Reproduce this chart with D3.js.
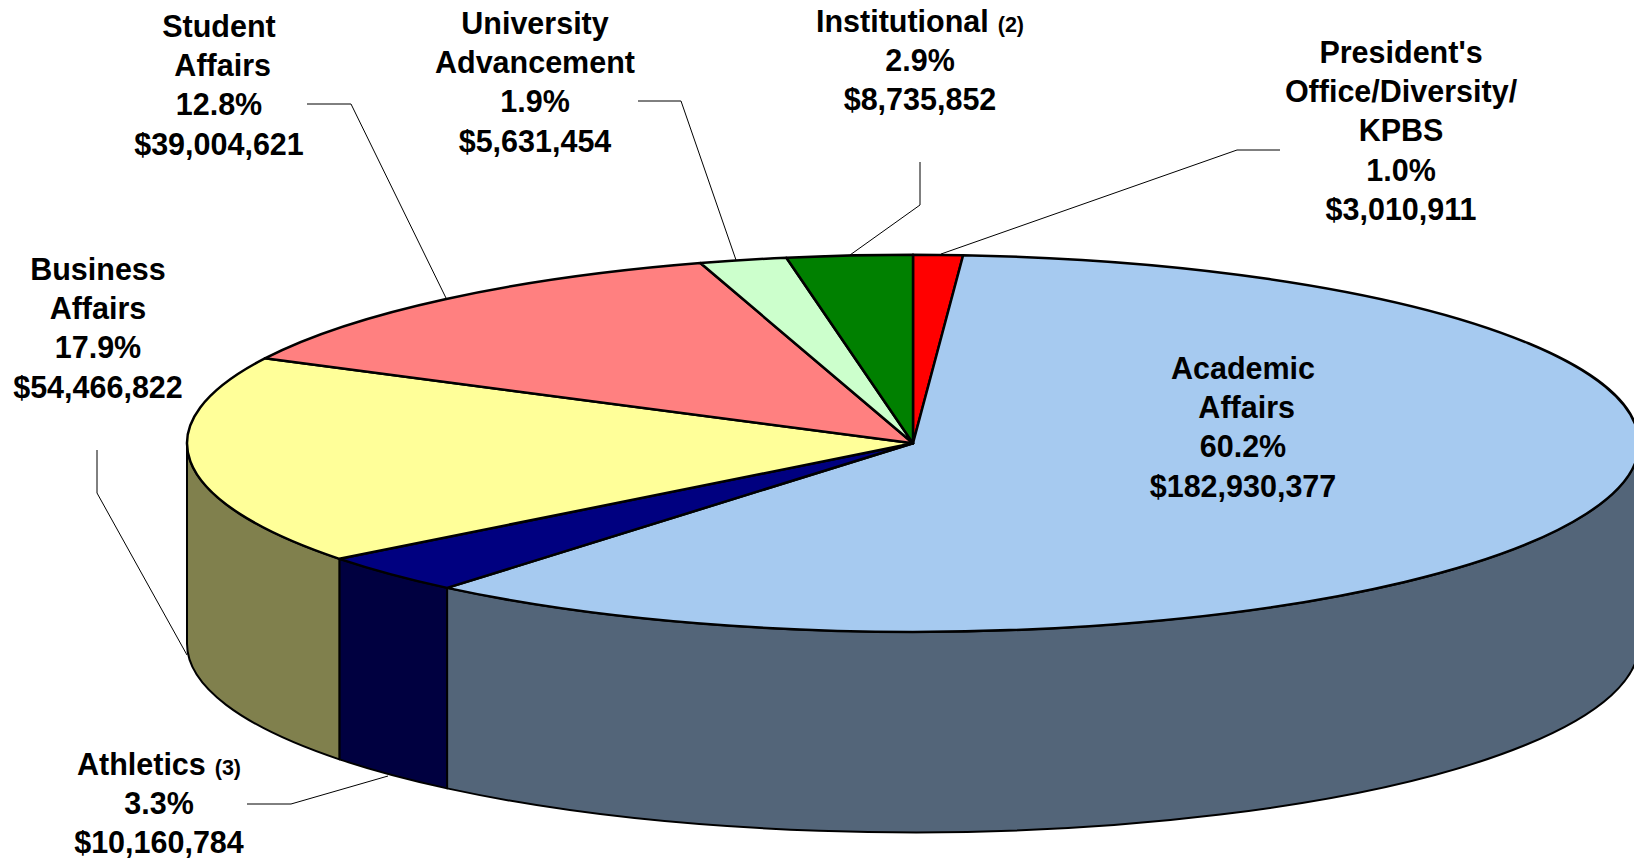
<!DOCTYPE html>
<html>
<head>
<meta charset="utf-8">
<script src="https://cdn.jsdelivr.net/npm/d3@7"></script>
<style>
  html, body { margin: 0; padding: 0; background: #fff; overflow: hidden; }
  svg { display: block; }
  text { font-family: "Liberation Sans", Arial, sans-serif; font-weight: bold; font-size: 30.5px; fill: #000; white-space: pre; }
</style>
</head>
<body>
<svg id="chart" width="1634" height="859"></svg>
<script>
// clockwise from 12 o'clock, same order as the pie
const divisions = ["President's", "Academic", "Athletics", "Business", "Student", "University", "Institutional"];
const amounts = [3010911, 182930377, 10160784, 54466822, 39004621, 5631454, 8735852];
const percents = ["1.0%", "60.2%", "3.3%", "17.9%", "12.8%", "1.9%", "2.9%"];
// share of the rim each slice takes in the picture, a touch off the printed % (3D view)
const sliceShares = [1.10, 59.99, 3.41, 17.94, 12.83, 1.94, 2.79];
const nameLines = [
    ["President's", "Office/Diversity/", "KPBS"],
    ["Academic", " Affairs"],
    ["Athletics"],
    ["Business", "Affairs"],
    ["Student", " Affairs"],
    ["University", "Advancement"],
    ["Institutional"]
];
const footnotes = ["", "", "(3)", "", "", "", "(2)"];
const topColors = ["#ff0000", "#a6caf0", "#000080", "#ffff99", "#ff8080", "#ccffcc", "#008000"];
const sideColors = ["#800000", "#536579", "#000040", "#80804d", "#804040", "#668066", "#004000"];

// label placement: centre x, first baseline
const labelPos = [[1401, 63], [1243, 379], [159, 775], [98, 280], [219, 37], [535, 34], [920, 32]];
// leader lines, from the label to the pie edge
const leaders = [
    [[1280, 150], [1237, 150], [941, 254]],
    null,
    [[247, 804], [291, 804], [388, 776]],
    [[97, 450], [97, 493], [187, 655]],
    [[307, 104], [351, 104], [446, 298]],
    [[638, 101], [681, 101], [736, 260]],
    [[920, 162], [920, 205], [850, 255]]
];

const cx = 913, cy = 443.3, rx = 726, ry = 188.5, depth = 200.5, lineStep = 39.2;

const svg = d3.select("#chart");
const pie = d3.pie().sort(null).value(d => d)(sliceShares);

const pt = (a, dy = 0) => [cx + rx * Math.sin(a), cy - ry * Math.cos(a) + dy];

// walls first, only the front half of the cake shows
const walls = svg.append("g");
pie.forEach((d, i) => {
    const a0 = Math.max(d.startAngle, Math.PI / 2);
    const a1 = Math.min(d.endAngle, 3 * Math.PI / 2);
    if (a1 <= a0) return;
    const s0 = pt(a0), s1 = pt(a1), b1 = pt(a1, depth), b0 = pt(a0, depth);
    const wall = `M${s0}A${rx},${ry} 0 0 1 ${s1}L${b1}A${rx},${ry} 0 0 0 ${b0}Z`;
    walls.append("path")
        .attr("d", wall)
        .attr("fill", sideColors[i])
        .attr("stroke", "#000")
        .attr("stroke-width", 2)
        .attr("stroke-linejoin", "round");
});

// top face: a flat d3 arc squashed into an ellipse
const arc = d3.arc().innerRadius(0).outerRadius(rx);
svg.append("g")
    .attr("transform", `translate(${cx},${cy}) scale(1,${ry / rx})`)
    .selectAll("path")
    .data(pie)
    .enter()
    .append("path")
        .attr("d", arc)
        .attr("fill", (d, i) => topColors[i])
        .attr("stroke", "#000")
        .attr("stroke-width", 2.5)
        .attr("stroke-linejoin", "round")
        .attr("vector-effect", "non-scaling-stroke");

const line = d3.line();
leaders.forEach(l => {
    if (!l) return;
    svg.append("path")
        .attr("d", line(l))
        .attr("fill", "none")
        .attr("stroke", "#000")
        .attr("stroke-width", 1);
});

const dollars = d3.format("$,");
divisions.forEach((name, i) => {
    const lines = [...nameLines[i], percents[i], dollars(amounts[i])];
    const label = svg.append("text").attr("text-anchor", "middle");
    lines.forEach((t, j) => {
        label.append("tspan")
            .attr("x", labelPos[i][0])
            .attr("y", labelPos[i][1] + j * lineStep)
            .text(t);
        if (j === 0 && footnotes[i]) {
            label.append("tspan").attr("dx", 3).style("font-size", "21.5px").text(" " + footnotes[i]);
        }
    });
});
</script>
</body>
</html>
